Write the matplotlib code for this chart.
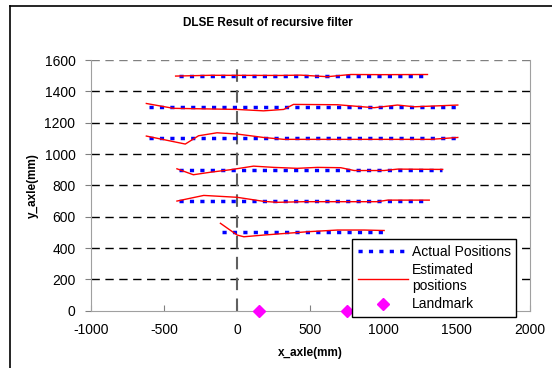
import numpy as np
import matplotlib.pyplot as plt
from matplotlib.lines import Line2D

plt.rcParams['font.family'] = ['Liberation Sans', 'DejaVu Sans']
plt.rcParams['axes.unicode_minus'] = False

# actual (straight) paths: level, start x, end x
actual_y = [500, 700, 900, 1100, 1300, 1500]
actual_x0 = [-100, -400, -400, -600, -600, -400]
actual_x1 = [1000, 1300, 1400, 1500, 1500, 1300]

# estimated paths
est_500_x = [-114, 0, 46, 182, 479, 685, 867, 1004]
est_500_y = [558, 483, 472, 483, 504, 515, 515, 512]

est_700_x = [-411, -228, 0, 182, 274, 456, 959, 1027, 1312]
est_700_y = [700, 736, 724, 698, 692, 696, 696, 706, 706]

est_900_x = [-411, -299, -183, -46, 112, 251, 411, 548, 708, 799, 1004, 1096, 1404]
est_900_y = [906, 868, 884, 900, 923, 915, 909, 915, 913, 895, 895, 904, 902]

est_1100_x = [-620, -354, -263, -137, 0, 180, 318, 900, 1324, 1507]
est_1100_y = [1115, 1064, 1117, 1136, 1128, 1106, 1094, 1094, 1094, 1106]

est_1300_x = [-620, -435, 0, 180, 318, 385, 685, 935, 1095, 1210, 1507]
est_1300_y = [1323, 1292, 1285, 1276, 1285, 1317, 1315, 1296, 1313, 1302, 1313]

est_1500_x = [-420, -183, 300, 434, 616, 776, 1000, 1300]
est_1500_y = [1498, 1503, 1502, 1504, 1494, 1508, 1507, 1508]

landmark_x = [150, 750]
landmark_y = [0, 0]

fig = plt.figure(figsize=(5.52, 3.68), dpi=100)
ax = fig.add_axes([0.1643, 0.1557, 0.7958, 0.681])

for i in range(len(actual_y)):
    ax.plot([actual_x0[i], actual_x1[i]], [actual_y[i], actual_y[i]], color='#0000ff',
            lw=2.5, ls=(0, (1.2, 1.8)), zorder=3,
            label='Actual Positions' if i == 0 else None)

est = [(est_500_x, est_500_y), (est_700_x, est_700_y), (est_900_x, est_900_y),
       (est_1100_x, est_1100_y), (est_1300_x, est_1300_y), (est_1500_x, est_1500_y)]
for i, (ex, ey) in enumerate(est):
    ax.plot(ex, ey, color='#ff0000', lw=1.0, zorder=4,
            label='Estimated\npositions' if i == 0 else None)

ax.plot(landmark_x, landmark_y, ls='none', marker='D', ms=6.5, color='#ff00ff',
        zorder=5, clip_on=False, label='Landmark')

ax.set_xlim(-1000, 2000)
ax.set_ylim(0, 1600)
ax.set_xticks(np.arange(-1000, 2001, 500))
ax.set_yticks(np.arange(0, 1601, 200))

for yv in range(200, 1601, 200):
    ax.axhline(yv, color='black' if yv < 1600 else '#808080', lw=1.0,
               ls=(0, (6, 4)), zorder=1)
ax.axvline(0, color='#606060', lw=1.5, ls=(0, (6, 4)), zorder=2)

for s in ['left', 'right', 'bottom']:
    ax.spines[s].set_color('#a0a0a0')
ax.spines['top'].set_visible(False)
ax.tick_params(axis='both', labelsize=10, color='#808080', length=4)
ax.tick_params(axis='x', direction='in', pad=9)
ax.tick_params(axis='y', direction='out', pad=7)

fig.text(268 / 552, 1 - 23 / 368, 'DLSE Result of recursive filter', fontsize=8.5,
         fontweight='bold', ha='center', va='center')
ax.set_xlabel('x_axle(mm)', fontsize=8.5, fontweight='bold', labelpad=7)
ax.set_ylabel('y_axle(mm)', fontsize=8.5, fontweight='bold', labelpad=4)

leg = ax.legend(loc='upper left', bbox_to_anchor=(0.595, 0.285), fontsize=10,
                frameon=True, fancybox=False, edgecolor='black', framealpha=1,
                borderpad=0.4, labelspacing=0.3, handlelength=3.6, handletextpad=0.3,
                borderaxespad=0)
leg.get_frame().set_linewidth(1.0)
leg.set_zorder(10)

# chart area border (left and top edges)
fig.add_artist(Line2D([10 / 552, 10 / 552], [0, 1 - 6 / 368], color='black', lw=1.2))
fig.add_artist(Line2D([10 / 552, 1], [1 - 6 / 368, 1 - 6 / 368], color='black', lw=1.2))

fig.savefig('out.png', dpi=100)
